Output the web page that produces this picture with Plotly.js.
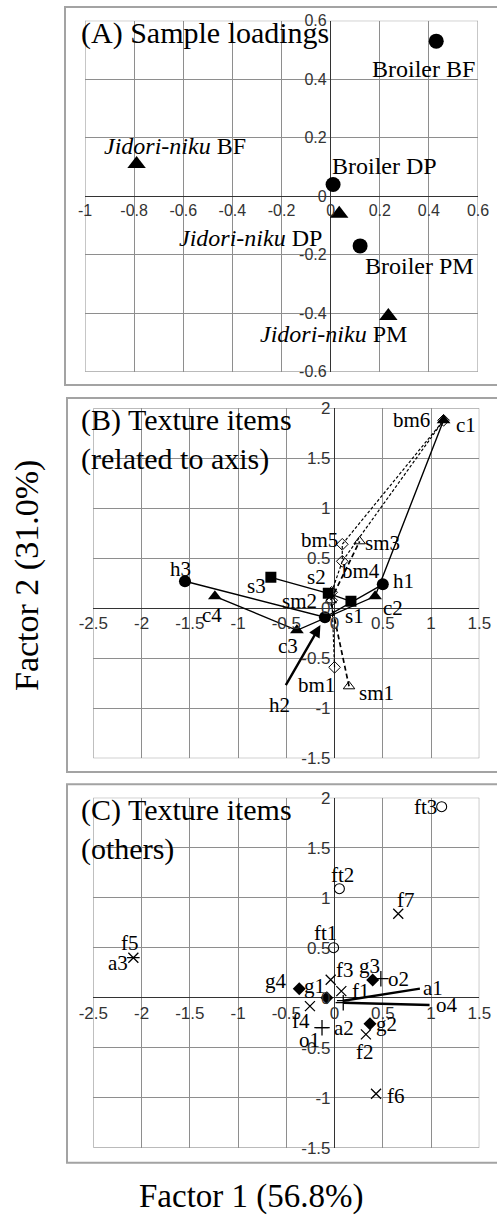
<!DOCTYPE html>
<html><head><meta charset="utf-8">
<script src="https://cdn.plot.ly/plotly-3.0.1.min.js"></script>
<style>html,body{margin:0;padding:0;background:#fff;}#chart{width:497px;height:1220px;}</style>
</head><body><div id="chart"></div>
<script>
// ================= DATA =================
// Panel A: sample loadings
const sampleNames = ["BF", "DP", "PM"];
const broilerX = [0.43, 0.01, 0.12];
const broilerY = [0.53, 0.04, -0.17];
const jidoriX = [-0.79, 0.035, 0.235];
const jidoriY = [0.11, -0.06, -0.41];

// Panel B: texture items related to axis
const hNames = ["h1", "h2", "h3"];
const hX = [0.50, -0.10, -1.55];
const hY = [0.24, -0.09, 0.27];
const cNames = ["c1", "c2", "c3", "c4"];
const cX = [1.13, 0.42, -0.39, -1.24];
const cY = [1.88, 0.12, -0.22, 0.12];
const sNames = ["s1", "s2", "s3"];
const sX = [0.17, -0.065, -0.66];
const sY = [0.07, 0.15, 0.31];
const bmNames = ["bm1", "bm2", "bm3", "bm4", "bm5", "bm6"];
const bmX = [0.0, -0.03, -0.03, 0.08, 0.08, 1.13];
const bmY = [-0.59, 0.08, 0.16, 0.47, 0.64, 1.88];
const bmPath = [0, 1, 2, 3, 4, 5, 3];
const smNames = ["sm1", "sm2", "sm3"];
const smX = [0.15, -0.04, 0.26];
const smY = [-0.78, 0.08, 0.67];

// Panel C: other texture items
const fNames = ["f1", "f2", "f3", "f4", "f5", "f6", "f7"];
const fX = [0.07, 0.325, -0.04, -0.255, -2.085, 0.43, 0.66];
const fY = [0.066, -0.367, 0.18, -0.084, 0.40, -0.96, 0.84];
const ftNames = ["ft1", "ft2", "ft3"];
const ftX = [-0.01, 0.05, 1.11];
const ftY = [0.50, 1.09, 1.91];
const gNames = ["g1", "g2", "g3", "g4"];
const gX = [-0.08, 0.367, 0.395, -0.366];
const gY = [0.0, -0.26, 0.176, 0.09];
const aNames = ["a1", "a2", "a3"];
const aX = [0.09, -0.13, -2.085];
const aY = [-0.03, -0.30, 0.40];
const oNames = ["o1", "o2", "o4"];
const oX = [-0.13, 0.48, 0.09];
const oY = [-0.30, 0.19, -0.05];

// Tick labels
const tickAx = [-1, -0.8, -0.6, -0.4, -0.2, 0, 0.2, 0.4, 0.6];
const tickAxText = ["-1", "-0.8", "-0.6", "-0.4", "-0.2", "0", "0.2", "0.4", "0.6"];
const tickAy = [-0.6, -0.4, -0.2, 0, 0.2, 0.4, 0.6];
const tickAyText = ["-0.6", "-0.4", "-0.2", "0", "0.2", "0.4", "0.6"];
const tickBCx = [-2.5, -2, -1.5, -1, -0.5, 0, 0.5, 1, 1.5];
const tickBCxText = ["-2.5", "-2", "-1.5", "-1", "-0.5", "0", "0.5", "1", "1.5"];
const tickBCy = [-1.5, -1, -0.5, 0, 0.5, 1, 1.5, 2];
const tickBCyText = ["-1.5", "-1", "-0.5", "0", "0.5", "1", "1.5", "2"];

// ================= STYLE / LAYOUT CONFIG =================
const W = 497, H = 1220;
const serif = "Liberation Serif";
const sans = "Liberation Sans";
const px2x = p => p / W;
const px2y = p => 1 - p / H;

const panels = {
  A: {xa: "xaxis", ya: "yaxis", xr: "x", yr: "y", xdom: [85, 478], ydom: [371.7, 20.7], xrange: [-1, 0.6], yrange: [-0.6, 0.6],
      tx: tickAx, txt: tickAxText, ty: tickAy, tyt: tickAyText, box: [65, 7, 499, 385]},
  B: {xa: "xaxis2", ya: "yaxis2", xr: "x2", yr: "y2", xdom: [93.3, 479.3], ydom: [758.3, 408.3], xrange: [-2.5, 1.5], yrange: [-1.5, 2],
      tx: tickBCx, txt: tickBCxText, ty: tickBCy, tyt: tickBCyText, box: [67, 398, 499, 772]},
  C: {xa: "xaxis3", ya: "yaxis3", xr: "x3", yr: "y3", xdom: [93.3, 479.3], ydom: [1147.7, 797.7], xrange: [-2.5, 1.5], yrange: [-1.5, 2],
      tx: tickBCx, txt: tickBCxText, ty: tickBCy, tyt: tickBCyText, box: [67, 784.3, 499, 1162.7]}
};
const tickSize = {A: 16, B: 17, C: 17};

// label offsets in px (dx right, dy down) from the mark
const labelOffsets = {
  "Broiler BF": [-13, 28], "Broiler DP": [51, -19], "Broiler PM": [59, 20],
  "Jidori BF": [38, -18], "Jidori DP": [-89, 24], "Jidori PM": [-55, 18],
  h1: [21, -3], h3: [-4, -12],
  c1: [22, 5], c2: [18, 12], c3: [-9, 16], c4: [-3, 19],
  s1: [4, 15], s2: [-12, -16], s3: [-14, 9],
  bm1: [-18, 18], bm4: [19, 10], bm5: [-23, -4], bm6: [-32, 0],
  sm1: [27, 7], sm2: [-31, 1], sm3: [23, 2],
  f1: [20, 0], f2: [-1, 18], f3: [14, -10], f4: [-9, 15], f5: [-3, -15], f6: [20, 2], f7: [8, -14],
  ft1: [-8, -15], ft2: [3, -14], ft3: [-16, 0],
  g1: [-12, -12], g2: [17, 0], g3: [-3, -14], g4: [-23, -8],
  a2: [22, 0], a3: [-15, 5],
  o1: [-13, 12], o2: [18, 0]
};
// leader lines: mark -> end point (data units) where the label sits
const leaders = [
  {panel: "B", name: "h2", px: hX[1], py: hY[1], ex: -0.514, ey: -0.784, lx: -0.566, ly: -0.967, head: 2, standoff: 9, lanchor: "center", lshift: 0},
  {panel: "C", name: "a1", px: aX[0], py: aY[0], ex: 0.90, ey: 0.093, lx: 0.90, ly: 0.093, head: 0, standoff: 0, lanchor: "left", lshift: 0},
  {panel: "C", name: "o4", px: oX[2], py: oY[2], ex: 1.0, ey: -0.074, lx: 1.0, ly: -0.074, head: 0, standoff: 0, lanchor: "left", lshift: 3}
];

// ================= BUILD =================
const traces = [];
const annotations = [];
const shapes = [];
const layout = {
  width: W, height: H, margin: {l: 0, r: 0, t: 0, b: 0},
  paper_bgcolor: "#fff", plot_bgcolor: "#fff", showlegend: false,
  font: {family: sans, size: 15, color: "#222"},
  annotations, shapes
};

for (const key of Object.keys(panels)) {
  const p = panels[key];
  const xd = [px2x(p.xdom[0]), px2x(p.xdom[1])];
  const yd = [px2y(p.ydom[0]), px2y(p.ydom[1])];
  const xZeroPaper = xd[0] + (0 - p.xrange[0]) / (p.xrange[1] - p.xrange[0]) * (xd[1] - xd[0]);
  const yZeroPaper = yd[0] + (0 - p.yrange[0]) / (p.yrange[1] - p.yrange[0]) * (yd[1] - yd[0]);
  const mk = () => ({
    showgrid: true, gridcolor: "#8e8e8e", gridwidth: 1,
    zeroline: true, zerolinecolor: "#333", zerolinewidth: 1.2,
    showline: false, ticks: "", tickmode: "array", fixedrange: true,
    tickfont: {family: sans, size: tickSize[key], color: "#333"}, anchor: "free"
  });
  layout[p.xa] = Object.assign(mk(), {domain: xd, range: p.xrange, tickvals: p.tx, ticktext: p.txt,
    position: yZeroPaper, side: "bottom", ticklabelstandoff: 3});
  layout[p.ya] = Object.assign(mk(), {domain: yd, range: p.yrange, tickvals: p.ty, ticktext: p.tyt,
    position: xZeroPaper, side: "left", ticklabelstandoff: 4});
  shapes.push({type: "rect", xref: p.xr, yref: p.yr, x0: p.xrange[0], x1: p.xrange[1], y0: p.yrange[0], y1: p.yrange[1],
    line: {color: "#8e8e8e", width: 1}, layer: "below"});
  shapes.push({type: "rect", xref: "paper", yref: "paper", x0: px2x(p.box[0]), x1: px2x(p.box[2]),
    y0: px2y(p.box[3]), y1: px2y(p.box[1]), line: {color: "#a3a3a3", width: 2}});
}

function markers(panel, xs, ys, symbol, size, lw) {
  const p = panels[panel];
  traces.push({
    type: "scatter", mode: "markers", x: xs, y: ys, xaxis: p.xr, yaxis: p.yr, hoverinfo: "skip",
    marker: {symbol, size, color: "#000", line: {color: "#000", width: lw || 0}}
  });
}
function path(panel, xs, ys, order, line) {
  const p = panels[panel];
  traces.push({
    type: "scatter", mode: "lines", x: order.map(i => xs[i]), y: order.map(i => ys[i]),
    xaxis: p.xr, yaxis: p.yr, hoverinfo: "skip", line: Object.assign({color: "#000"}, line)
  });
}
function labels(panel, names, xs, ys, size, keyFn, textFn) {
  const p = panels[panel];
  names.forEach((n, i) => {
    const k = keyFn ? keyFn(n) : n;
    const off = labelOffsets[k];
    if (!off) return;
    annotations.push({
      x: xs[i], y: ys[i], xref: p.xr, yref: p.yr, text: textFn ? textFn(n) : n,
      showarrow: false, xanchor: "center", yanchor: "middle", xshift: off[0], yshift: -off[1],
      font: {family: serif, size, color: "#000"}
    });
  });
}

// ---- Panel A ----
markers("A", broilerX, broilerY, "circle", 15);
markers("A", jidoriX, jidoriY, "triangle-up", 16);
labels("A", sampleNames, broilerX, broilerY, 24, n => "Broiler " + n, n => "Broiler " + n);
labels("A", sampleNames, jidoriX, jidoriY, 24, n => "Jidori " + n, n => "<i>Jidori-niku</i> " + n);

// ---- Panel B ----
const idx = a => a.map((_, i) => i);
path("B", hX, hY, idx(hX), {width: 1.4});
path("B", cX, cY, idx(cX), {width: 1.4});
path("B", sX, sY, idx(sX), {width: 1.4});
path("B", bmX, bmY, bmPath, {width: 1.2, dash: "3px,2px"});
path("B", smX, smY, idx(smX), {width: 1.7, dash: "5px,3px"});
markers("B", sX, sY, "square", 11);
markers("B", cX, cY, "triangle-up", 12);
markers("B", hX, hY, "circle", 12);
markers("B", bmX, bmY, "diamond-open", 9, 1);
markers("B", smX, smY, "triangle-up-open", 10, 1);
labels("B", hNames, hX, hY, 21);
labels("B", cNames, cX, cY, 21);
labels("B", sNames, sX, sY, 21);
labels("B", bmNames, bmX, bmY, 21);
labels("B", smNames, smX, smY, 21);

// ---- Panel C ----
markers("C", fX, fY, "x-thin", 10, 1.3);
markers("C", ftX, ftY, "circle-open", 10, 1.1);
markers("C", gX, gY, "diamond", 10);
markers("C", oX, oY, "cross-thin", 11, 1.3);
markers("C", aX, aY, "line-ew", 9, 1.3);
labels("C", fNames, fX, fY, 21);
labels("C", ftNames, ftX, ftY, 21);
labels("C", gNames, gX, gY, 21);
labels("C", aNames, aX, aY, 21);
labels("C", oNames, oX, oY, 21);

// ---- leader lines ----
leaders.forEach(L => {
  const p = panels[L.panel];
  annotations.push({x: L.px, y: L.py, ax: L.ex, ay: L.ey, xref: p.xr, yref: p.yr, axref: p.xr, ayref: p.yr,
    text: "", showarrow: true, arrowhead: L.head, arrowsize: 1, arrowwidth: 2.4, arrowcolor: "#000", standoff: L.standoff});
  annotations.push({x: L.lx, y: L.ly, xref: p.xr, yref: p.yr, text: L.name, showarrow: false,
    xanchor: L.lanchor, yanchor: "middle", xshift: L.lshift, font: {family: serif, size: 21, color: "#000"}});
});

// ---- panel titles ----
const titles = [
  {text: "(A) Sample loadings", y: 33.5},
  {text: "(B) Texture items<br>(related to axis)", y: 440},
  {text: "(C) Texture items<br>(others)", y: 829.5}
];
titles.forEach(t => annotations.push({x: px2x(79), y: px2y(t.y), xref: "paper", yref: "paper", text: t.text,
  showarrow: false, xanchor: "left", yanchor: "middle", align: "left", font: {family: serif, size: 30, color: "#000"}}));

// ---- axis titles ----
annotations.push({x: px2x(27), y: px2y(576), xref: "paper", yref: "paper", text: "Factor 2 (31.0%)", textangle: -90,
  showarrow: false, xanchor: "center", yanchor: "middle", font: {family: serif, size: 34, color: "#000"}});
annotations.push({x: px2x(251), y: px2y(1196), xref: "paper", yref: "paper", text: "Factor 1 (56.8%)",
  showarrow: false, xanchor: "center", yanchor: "middle", font: {family: serif, size: 33, color: "#000"}});

Plotly.newPlot("chart", traces, layout, {displayModeBar: false, staticPlot: true});
</script></body></html>
